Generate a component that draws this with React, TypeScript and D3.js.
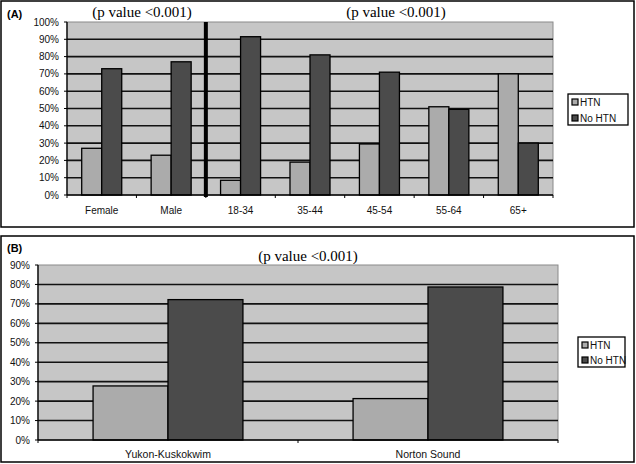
import * as d3 from "d3";

// ---- data (percentages) ----
const seriesNames = ["HTN", "No HTN"];
const seriesColors = ["#ababab", "#4b4b4b"];

const groupsA = ["Female", "Male", "18-34", "35-44", "45-54", "55-64", "65+"];
const htnA = [27, 23, 8.5, 19, 29.5, 51, 70];
const noHtnA = [73, 77, 91.5, 81, 71, 49.5, 30];
const ticksA = [0, 10, 20, 30, 40, 50, 60, 70, 80, 90, 100];

const regionsB = ["Yukon-Kuskokwim", "Norton Sound"];
const htnB = [27.8, 21.3];
const noHtnB = [72.2, 78.7];
const ticksB = [0, 10, 20, 30, 40, 50, 60, 70, 80, 90];

const pLabel = "(p value <0.001)";
const SANS = "'Liberation Sans', Arial, sans-serif";
const SERIF = "'Liberation Serif', 'Times New Roman', serif";

type PanelProps = {
  cats: string[];
  htn: number[];
  noHtn: number[];
  ticks: number[];
  left: number;
  right: number;
  top: number;
  bottom: number;
  labelY: number;
  labelSize: number;
  divider?: number; // index of boundary to draw the thick separator at
};

function BarPanel(p: PanelProps) {
  const yMax = p.ticks[p.ticks.length - 1];
  const x = d3.scaleBand<string>().domain(p.cats).range([p.left, p.right]).padding(0);
  const inner = d3
    .scaleBand<string>()
    .domain(seriesNames)
    .range([0, x.bandwidth()])
    .paddingInner(0)
    .paddingOuter(0.735);
  const y = d3.scaleLinear().domain([0, yMax]).range([p.bottom, p.top]);
  const bounds = d3.range(p.cats.length + 1).map((i) => p.left + i * x.step());

  return (
    <g>
      <rect x={p.left} y={p.top} width={p.right - p.left} height={p.bottom - p.top} fill="#c6c6c6" stroke="#8a8a8a" strokeWidth={1} />
      {p.ticks
        .filter((t) => t > 0 && t < yMax)
        .map((t) => (
          <line key={t} x1={p.left} x2={p.right} y1={y(t)} y2={y(t)} stroke="#111" strokeWidth={1.6} />
        ))}
      {p.cats.map((c, i) =>
        [p.htn[i], p.noHtn[i]].map((v, s) => (
          <rect
            key={c + s}
            x={x(c)! + inner(seriesNames[s])!}
            y={y(v)}
            width={inner.bandwidth()}
            height={p.bottom - y(v)}
            fill={seriesColors[s]}
            stroke="#000"
            strokeWidth={1.3}
          />
        ))
      )}
      {/* axes */}
      <line x1={p.left} x2={p.left} y1={p.top} y2={p.bottom} stroke="#000" strokeWidth={1.3} />
      <line x1={p.left} x2={p.right} y1={p.bottom} y2={p.bottom} stroke="#000" strokeWidth={1.3} />
      {p.ticks.map((t) => (
        <g key={t}>
          <line x1={p.left - 3} x2={p.left} y1={y(t)} y2={y(t)} stroke="#000" strokeWidth={1} />
          <text x={p.left - 8} y={y(t)} dy="0.35em" textAnchor="end" fontFamily={SANS} fontSize={10} fill="#111">
            {t}%
          </text>
        </g>
      ))}
      {bounds.map((bx, i) => (
        <line key={i} x1={bx} x2={bx} y1={p.bottom} y2={p.bottom + 3} stroke="#000" strokeWidth={1} />
      ))}
      {p.cats.map((c) => (
        <text key={c} x={x(c)! + x.bandwidth() / 2} y={p.labelY} dy="0.35em" textAnchor="middle" fontFamily={SANS} fontSize={p.labelSize} fill="#111">
          {c}
        </text>
      ))}
      {p.divider !== undefined && (
        <line x1={bounds[p.divider]} x2={bounds[p.divider]} y1={p.top} y2={p.bottom + 2} stroke="#000" strokeWidth={4} />
      )}
    </g>
  );
}

function Legend({ x, y, w, h, rowGap }: { x: number; y: number; w: number; h: number; rowGap: number }) {
  return (
    <g>
      <rect x={x} y={y} width={w} height={h} fill="#fff" stroke="#000" strokeWidth={1.3} />
      {seriesNames.map((s, i) => {
        const cy = y + 8 + i * rowGap;
        return (
          <g key={s}>
            <rect x={x + 4} y={cy - 3} width={6} height={6} fill={seriesColors[i]} stroke="#000" strokeWidth={1.2} />
            <text x={x + 12} y={cy} dy="0.35em" fontFamily={SANS} fontSize={10} fill="#111">
              {s}
            </text>
          </g>
        );
      })}
    </g>
  );
}

export default function App() {
  return (
    <svg width={636} height={464} style={{ position: "absolute", left: 0, top: 0, background: "#fff" }}>
      {/* panel A */}
      <rect x={1} y={1} width={633} height={226} fill="#fff" stroke="#000" strokeWidth={1.5} />
      <text x={7} y={14} dy="0.35em" fontFamily={SANS} fontWeight="bold" fontSize={11}>(A)</text>
      <text x={142} y={17} textAnchor="middle" fontFamily={SERIF} fontSize={15}>{pLabel}</text>
      <text x={396} y={17} textAnchor="middle" fontFamily={SERIF} fontSize={15}>{pLabel}</text>
      <BarPanel
        cats={groupsA}
        htn={htnA}
        noHtn={noHtnA}
        ticks={ticksA}
        left={67}
        right={553}
        top={22}
        bottom={195}
        labelY={210}
        labelSize={10}
        divider={2}
      />
      <Legend x={568} y={94} w={60} h={31} rowGap={16} />

      {/* panel B */}
      <rect x={1} y={236} width={633} height={226} fill="#fff" stroke="#000" strokeWidth={1.5} />
      <text x={7} y={248} dy="0.35em" fontFamily={SANS} fontWeight="bold" fontSize={11}>(B)</text>
      <text x={308} y={261} textAnchor="middle" fontFamily={SERIF} fontSize={15}>{pLabel}</text>
      <BarPanel
        cats={regionsB}
        htn={htnB}
        noHtn={noHtnB}
        ticks={ticksB}
        left={38}
        right={558}
        top={265}
        bottom={440}
        labelY={454}
        labelSize={10.5}
      />
      <Legend x={578} y={337} w={47} h={30} rowGap={15} />
    </svg>
  );
}
